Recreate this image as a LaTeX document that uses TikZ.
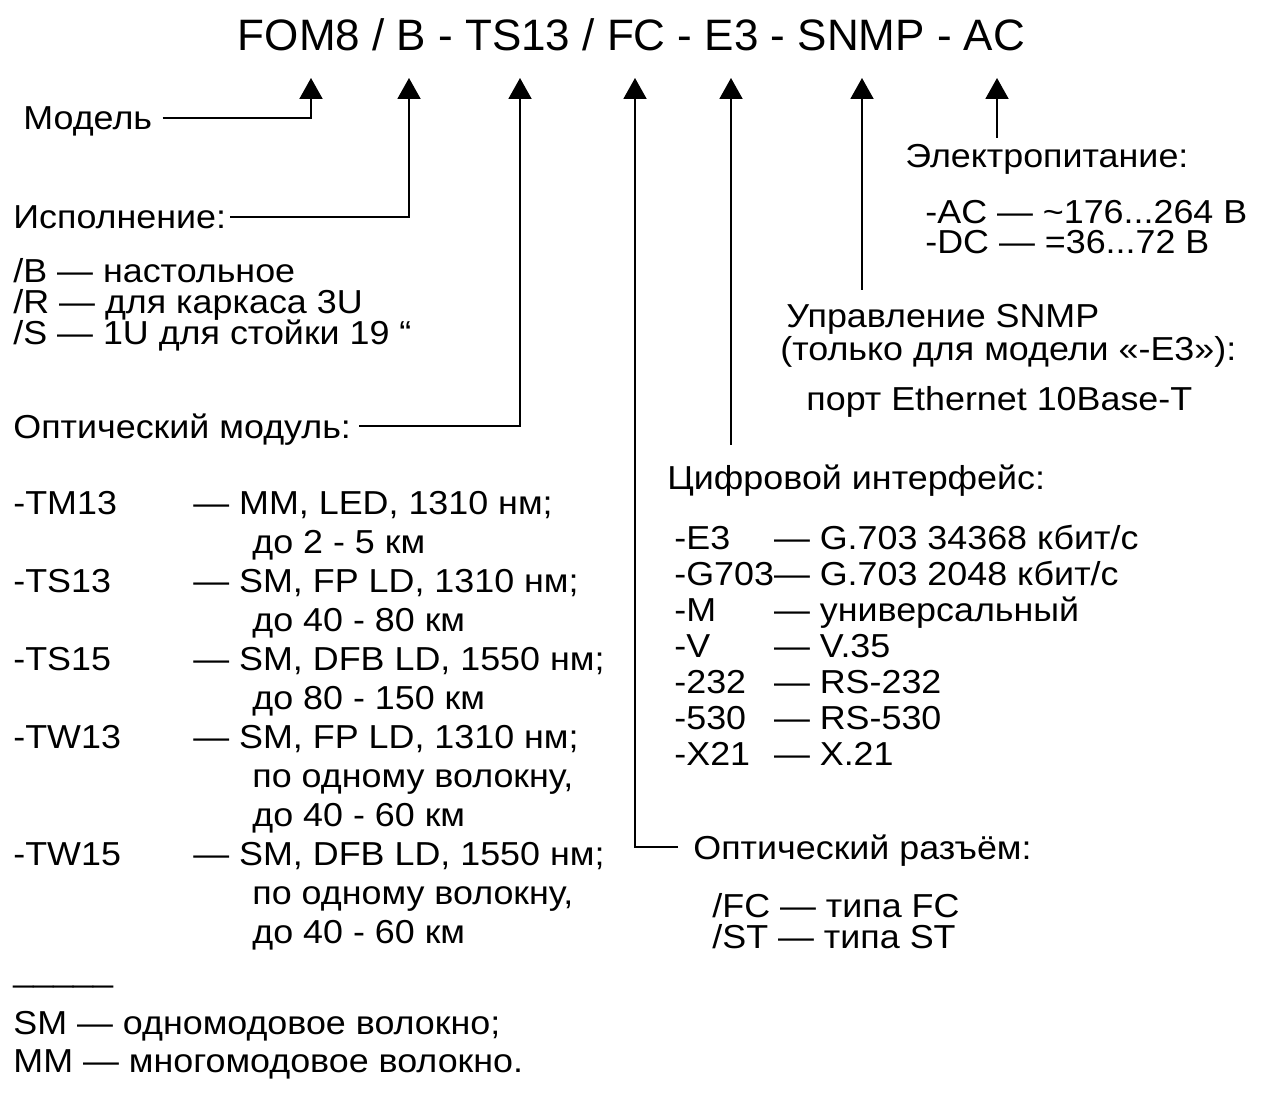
\documentclass[tikz,border=0pt]{standalone}
\usepackage{fontspec}
\setmainfont{Liberation Sans}[FakeStretch=1.08]
\newfontfamily\titlefont{Liberation Sans}
\usetikzlibrary{arrows.meta}

\begin{document}
\begin{tikzpicture}[x=0.5pt, y=-0.5pt, >={Triangle[length=10.5pt, width=11.5pt]},
    every node/.style={inner sep=0pt, font=\fontsize{16.6}{18}\selectfont},
    head/.style={anchor=base west, text height=12pt, text depth=0pt},
    blk/.style={anchor=base west},
    conn/.style={->, line width=1pt}]
    \useasboundingbox (0,0) rectangle (1263,1096);

    \node[anchor=base, font=\titlefont\fontsize{22}{26}\selectfont] (title) at (631.5,51) {FOM8 / B - TS13 / FC - E3 - SNMP - AC};
    \coordinate (tModel) at (311,78);
    \coordinate (tExec) at (409,78);
    \coordinate (tOpt) at (520,78);
    \coordinate (tPlug) at (635,78);
    \coordinate (tIface) at (731,78);
    \coordinate (tSnmp) at (862,78);
    \coordinate (tPower) at (997,78);

    \node[head] (model) at (23,130) {Модель};
    \draw[conn, shorten <=5pt] (model.east) -| (tModel);

    \node[head] (exec) at (13,229) {Исполнение:};
    \draw[conn, shorten <=2pt] (exec.east) -| (tExec);
    \node[blk] (execB) at (13,283) {/B — настольное};
    \node[blk] (execR) at (13,314) {/R — для каркаса 3U};
    \node[blk] (execS) at (13,345) {/S — 1U для стойки 19 “};

    \node[head] (optmod) at (13,438) {Оптический модуль:};
    \draw[conn, shorten <=4pt] (optmod.east) -| (tOpt);
    \node[blk, font=\fontsize{16.6}{19.5}\selectfont] (optlist) at (13,514) {\begin{tabular}[t]{@{}p{90pt}@{}l@{}}
        -TM13 & — MM, LED, 1310 нм;\\
              & \hspace{29.5pt}до 2 - 5 км\\
        -TS13 & — SM, FP LD, 1310 нм;\\
              & \hspace{29.5pt}до 40 - 80 км\\
        -TS15 & — SM, DFB LD, 1550 нм;\\
              & \hspace{29.5pt}до 80 - 150 км\\
        -TW13 & — SM, FP LD, 1310 нм;\\
              & \hspace{29.5pt}по одному волокну,\\
              & \hspace{29.5pt}до 40 - 60 км\\
        -TW15 & — SM, DFB LD, 1550 нм;\\
              & \hspace{29.5pt}по одному волокну,\\
              & \hspace{29.5pt}до 40 - 60 км
    \end{tabular}};

    \node[blk] (noteline) at (13,981) {\_\_\_\_\_};
    \node[blk] (noteSM) at (13,1034) {SM — одномодовое волокно;};
    \node[blk] (noteMM) at (13,1072) {MM — многомодовое волокно.};

    \node[head] (plug) at (693,859) {Оптический разъём:};
    \draw[conn, shorten <=7.5pt] (plug.west) -| (tPlug);
    \node[blk] (fc) at (712,917) {/FC — типа FC};
    \node[blk] (st) at (712,948) {/ST — типа ST};

    \node[head] (iface) at (667,489) {Цифровой интерфейс:};
    \draw[conn, shorten <=10pt] (iface.north -| tIface) -- (tIface);
    \node[blk, font=\fontsize{16.6}{18}\selectfont] (ifacelist) at (674,549) {\begin{tabular}[t]{@{}l@{}l@{}}
        -E3 & — G.703 34368 кбит/с\\
        -G703 & — G.703 2048 кбит/с\\
        -M & — универсальный\\
        -V & — V.35\\
        -232 & — RS-232\\
        -530 & — RS-530\\
        -X21 & — X.21
    \end{tabular}};

    \node[head] (snmp) at (786,328) {Управление SNMP};
    \draw[conn, shorten <=7pt] (snmp.north -| tSnmp) -- (tSnmp);
    \node[blk] (snmpnote) at (780,361) {(только для модели «-E3»):};
    \node[blk] (snmpport) at (806,410) {порт Ethernet 10Base-T};

    \node[head] (power) at (905,168) {Электропитание:};
    \draw[conn, shorten <=3pt] (power.north -| tPower) -- (tPower);
    \node[blk] (ac) at (925,224) {-AC — \textasciitilde176...264 В};
    \node[blk] (dc) at (925,254) {-DC — =36...72 В};
\end{tikzpicture}
\end{document}
